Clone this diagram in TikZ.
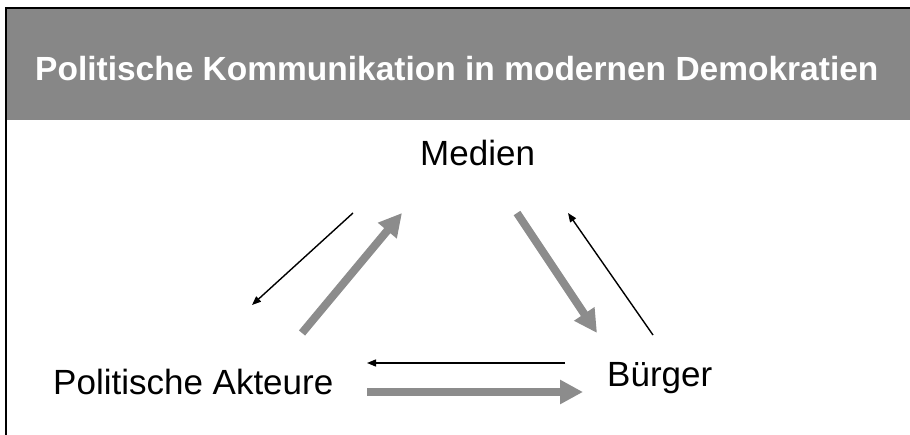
\documentclass[tikz,border=0pt]{standalone}
\usepackage{fontspec}
\setmainfont{Liberation Sans}
\usetikzlibrary{positioning,arrows.meta}

\begin{document}
\begin{tikzpicture}[x=1pt, y=-1pt, font=\fontsize{35}{40}\selectfont,
  label/.style={inner sep=0pt, anchor=base west},
  thin/.style={line width=1.4pt, -{Triangle[width=7pt,length=9pt]}},
  fat/.style={line width=8pt, draw=black!45, -{Triangle[width=23pt,length=23pt]}, color=black!45}]
  \useasboundingbox (0,0) rectangle (910,435);
  % header band
  \fill[black!47] (7,9) rectangle (910,120);
  \draw[line width=2pt] (6,435) -- (6,8) -- (910,8);
  \node[label, text=white, font=\fontsize{33.5}{38}\selectfont\bfseries] (title) at (35,81) {Politische Kommunikation in modernen Demokratien};
  % actors
  \node[label] (medien) at (420,166) {Medien};
  \node[label] (akteure) at (53,394) {Politische Akteure};
  \node[label] (buerger) at (607,387) {Bürger};
  % arrow ends
  \coordinate (ml1) at (353,213); \coordinate (ml2) at (252,305);
  \coordinate (ml3) at (302,333); \coordinate (ml4) at (402,213);
  \coordinate (mr1) at (517,213); \coordinate (mr2) at (597,333);
  \coordinate (mr3) at (653,335); \coordinate (mr4) at (568,213);
  \coordinate (ab1) at (565,363); \coordinate (ab2) at (367,363);
  \coordinate (ab3) at (367,392); \coordinate (ab4) at (583,392);
  \draw[thin] (ml1) -- (ml2);
  \draw[fat] (ml3) -- (ml4);
  \draw[fat] (mr1) -- (mr2);
  \draw[thin] (mr3) -- (mr4);
  \draw[thin] (ab1) -- (ab2);
  \draw[fat] (ab3) -- (ab4);
\end{tikzpicture}
\end{document}
